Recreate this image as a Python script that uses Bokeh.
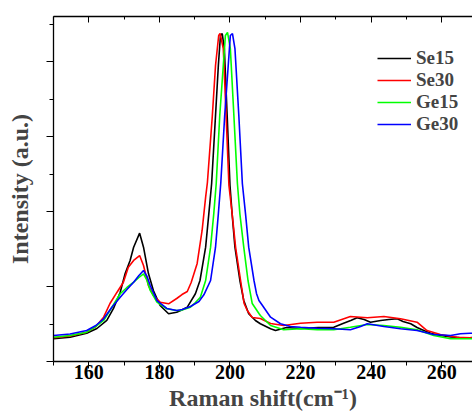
from bokeh.plotting import figure
from bokeh.models import Range1d, FixedTicker, LinearAxis, Legend, LegendItem
from bokeh.embed import file_html
from bokeh.resources import INLINE

# ---- data ----
se15_x = [150, 154.7, 159.4, 162.3, 165.1, 167, 168.9, 170.3, 171.7, 172.7, 174.4, 175.5, 176.9, 178.3,
          180.2, 182.6, 184.9, 186, 187.9, 190.2, 191.5, 193.1, 194, 194.8, 195.9, 196.7, 197.3, 197.8,
          198.4, 199.2, 200, 200.6, 201.4, 202.8, 203.9, 205.3, 207.2, 208.6, 211.5, 212.9, 216, 220,
          225, 229.4, 232, 234.2, 236, 238, 239.8, 242.7, 245, 247.4, 249, 251.2, 253, 254.9, 257,
          259.7, 262.5, 265, 268, 269]
se15_y = [0.303, 0.324, 0.377, 0.44, 0.547, 0.707, 0.924, 1.173, 1.347, 1.524, 1.711, 1.524, 1.173, 0.947,
          0.747, 0.636, 0.657, 0.68, 0.724, 0.903, 1.08, 1.524, 1.969, 2.373, 3.28, 3.947, 4.347, 4.373,
          4.169, 3.28, 2.347, 1.969, 1.524, 1.08, 0.813, 0.636, 0.547, 0.503, 0.436, 0.413, 0.453, 0.44,
          0.453, 0.457, 0.507, 0.547, 0.583, 0.56, 0.524, 0.547, 0.56, 0.569, 0.533, 0.503, 0.453, 0.413,
          0.373, 0.347, 0.327, 0.32, 0.316, 0.32]

se30_x = [150, 154.7, 159.4, 162, 164.2, 166, 168, 169.8, 171.2, 172.7, 174.4, 175.5, 176.9, 178.3,
          180.2, 182.6, 184.9, 186.4, 187.9, 189, 190.7, 192.1, 193.1, 193.6, 195, 195.9, 196.8, 197.2,
          198.1, 198.9, 199.7, 200.6, 201.6, 203, 204, 204.9, 206.3, 208.6, 211.5, 215.2, 220, 224.7,
          229.4, 234.1, 238.9, 243.6, 248.3, 253, 255.8, 259.6, 264.3, 268, 269]
se30_y = [0.316, 0.34, 0.391, 0.467, 0.591, 0.773, 0.924, 1.057, 1.257, 1.347, 1.413, 1.28, 1.013, 0.88,
          0.791, 0.769, 0.84, 0.893, 0.933, 1.053, 1.307, 1.747, 2.191, 2.387, 3.28, 3.947, 4.347, 4.373,
          4.173, 3.28, 2.347, 1.973, 1.52, 1.08, 0.773, 0.68, 0.587, 0.573, 0.507, 0.48, 0.511, 0.524,
          0.524, 0.6, 0.583, 0.6, 0.569, 0.524, 0.413, 0.36, 0.324, 0.316, 0.316]

ge15_x = [150, 154.7, 159.4, 162, 164.2, 166.5, 168.9, 170.8, 172.7, 174.2, 175.5, 176.5, 177.4, 179.3,
          182.1, 184.9, 186, 188.8, 190.2, 191.6, 193.1, 194.5, 195.4, 196.1, 197.1, 198.1, 198.7, 199.3,
          200.1, 201.1, 202.1, 202.8, 203.9, 205.1, 206.3, 208.2, 208.6, 211.5, 215.2, 220, 224.7, 229.4,
          234.1, 238.9, 243.6, 248.3, 253, 257.7, 262.5, 268, 269]
ge15_y = [0.324, 0.347, 0.391, 0.467, 0.547, 0.72, 0.903, 0.987, 1.057, 1.12, 1.169, 1.08, 0.947, 0.791,
          0.703, 0.68, 0.68, 0.724, 0.787, 0.857, 1.08, 1.524, 1.969, 2.373, 3.28, 3.947, 4.347, 4.387,
          4.173, 3.28, 2.373, 1.969, 1.524, 1.08, 0.773, 0.64, 0.613, 0.48, 0.423, 0.436, 0.423, 0.423,
          0.457, 0.493, 0.48, 0.457, 0.423, 0.347, 0.303, 0.303, 0.303]

ge30_x = [150, 154.7, 159.4, 162, 164.2, 166.5, 168.9, 170.8, 172.7, 174.2, 175.5, 176.5, 177.4, 179.3,
          182.1, 184.9, 186.5, 188.8, 191.2, 192.6, 194.5, 195.9, 196.7, 197.4, 198.5, 199.5, 200.1, 200.7,
          201.4, 202.5, 203.5, 204.4, 205.3, 206.8, 207.5, 208.2, 209.2, 211.5, 214.3, 217.1, 220, 224.7,
          229.4, 234.1, 237, 238.9, 243.6, 248.3, 253, 257.7, 262.5, 265.3, 268, 269]
ge30_y = [0.347, 0.367, 0.413, 0.48, 0.569, 0.72, 0.857, 0.96, 1.057, 1.147, 1.213, 1.133, 1.013, 0.813,
          0.707, 0.68, 0.693, 0.733, 0.8, 0.889, 1.08, 1.524, 1.969, 2.387, 3.28, 3.947, 4.347, 4.373,
          4.173, 3.28, 2.373, 1.969, 1.524, 1.08, 0.907, 0.813, 0.747, 0.591, 0.503, 0.467, 0.457, 0.444,
          0.436, 0.423, 0.467, 0.503, 0.467, 0.436, 0.413, 0.36, 0.347, 0.369, 0.377, 0.377]

series_names = ["Se15", "Se30", "Ge15", "Ge30"]
series_colors = ["#000000", "#ff0000", "#00ff00", "#0000ff"]

x_major = [160, 180, 200, 220, 240, 260]
x_minor = [150, 170, 190, 210, 230, 250, 270]
y_major = [0, 1, 2, 3, 4]
y_minor = [0.5, 1.5, 2.5, 3.5, 4.5]

FONT = "Liberation Serif"

p = figure(width=472, height=416, output_backend="svg", toolbar_location=None,
           x_range=Range1d(150, 268.7), y_range=Range1d(0, 4.6),
           min_border_left=53, min_border_right=0, min_border_top=16, min_border_bottom=55,
           x_axis_location=None, y_axis_location=None)
p.outline_line_color = None
p.xgrid.visible = False
p.ygrid.visible = False
p.background_fill_color = "white"
p.border_fill_color = "white"

xt = FixedTicker(ticks=x_major, minor_ticks=x_minor)
yt = FixedTicker(ticks=y_major, minor_ticks=y_minor)

xb = LinearAxis(ticker=xt, axis_label="Raman shift(cm\u207b\u00b9)")
xb.major_label_text_font = FONT
xb.major_label_text_font_style = "bold"
xb.major_label_text_font_size = "20px"
xb.major_label_text_color = "black"
xb.major_label_standoff = -4
xb.axis_label_text_font = FONT
xb.axis_label_text_font_style = "bold"
xb.axis_label_text_font_size = "24px"
xb.axis_label_standoff = 3
xb.major_tick_out = 7
xb.major_tick_in = 0
xb.minor_tick_out = 4
xb.minor_tick_in = 0
xb.axis_line_width = 1.3
p.add_layout(xb, "below")

xa = LinearAxis(ticker=xt)
xa.major_label_overrides = {t: "" for t in x_major}
xa.major_label_text_font_size = "1px"
xa.major_label_standoff = 0
xa.major_tick_out = 0
xa.major_tick_in = 6
xa.minor_tick_out = 0
xa.minor_tick_in = 3
xa.axis_line_width = 1.3
p.add_layout(xa, "above")

yl = LinearAxis(ticker=yt, axis_label="Intensity (a.u.)")
yl.major_label_overrides = {t: "" for t in y_major}
yl.major_label_text_font_size = "1px"
yl.major_label_standoff = 0
yl.axis_label_text_font = FONT
yl.axis_label_text_font_style = "bold"
yl.axis_label_text_font_size = "24px"
yl.axis_label_standoff = 14
yl.major_tick_out = 7
yl.major_tick_in = 0
yl.minor_tick_out = 4
yl.minor_tick_in = 0
yl.axis_line_width = 1.3
p.add_layout(yl, "left")

xs = [se15_x, se30_x, ge15_x, ge30_x]
ys = [se15_y, se30_y, ge15_y, ge30_y]
items = []
for name, color, xv, yv in zip(series_names, series_colors, xs, ys):
    r = p.line(xv, yv, line_color=color, line_width=1.6)
    items.append(LegendItem(label=name, renderers=[r]))

legend = Legend(items=items, location=(324, 226))
legend.border_line_color = None
legend.background_fill_alpha = 0
legend.padding = 0
legend.margin = 0
legend.spacing = 0
legend.glyph_width = 34
legend.glyph_height = 22
legend.label_height = 22
legend.label_standoff = 5
legend.label_text_font = FONT
legend.label_text_font_style = "bold"
legend.label_text_font_size = "19px"
p.add_layout(legend, "center")

open("out.html", "w").write(file_html(p, INLINE))
